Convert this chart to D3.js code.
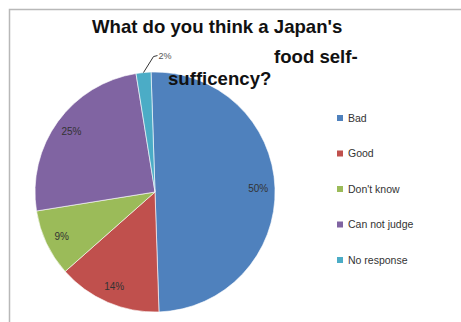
<!DOCTYPE html>
<html>
<head>
<meta charset="utf-8">
<script src="https://cdn.jsdelivr.net/npm/d3@7"></script>
<style>
  body { margin: 0; background: #fff; }
  svg { display: block; }
</style>
</head>
<body>
<div id="chart"></div>
<script>
// data
var categories = ["Bad", "Good", "Don't know", "Can not judge", "No response"];
var shares = [50, 14, 9, 25, 2];
var colors = ["#4F81BD", "#C0504D", "#9BBB59", "#8064A2", "#4BACC6"];
var titleLines = ["What do you think a Japan's", "food self-", "sufficency?"];

var width = 461;
var height = 322;

var svg = d3.select("#chart")
  .append("svg")
  .attr("width", width)
  .attr("height", height);

// chart frame (only top and left show in the shot)
svg.append("rect")
  .attr("x", 9.5)
  .attr("y", 9.5)
  .attr("width", 470)
  .attr("height", 330)
  .attr("fill", "#fff")
  .attr("stroke", "#b8b8b8")
  .attr("stroke-width", 1.5);

// pie
var cx = 155, cy = 192, radius = 120;
var rot = -1.9 * Math.PI / 180;

var pie = d3.pie()
  .sort(null)
  .startAngle(rot)
  .endAngle(2 * Math.PI + rot);

var arcs = pie(shares);

var arc = d3.arc().innerRadius(0).outerRadius(radius);

var g = svg.append("g").attr("transform", "translate(" + cx + "," + cy + ")");

g.selectAll("path.slice")
  .data(arcs)
  .enter()
  .append("path")
  .attr("class", "slice")
  .attr("d", arc)
  .attr("fill", function(d, i) { return colors[i]; })
  .attr("stroke", "#fff")
  .attr("stroke-width", 0.6);

// data labels inside, small ones outside with a leader
var labelArc = d3.arc().innerRadius(radius * 0.86).outerRadius(radius * 0.86);

arcs.forEach(function(d, i) {
  var txt = shares[i] + "%";
  if (shares[i] >= 5) {
    var c = labelArc.centroid(d);
    g.append("text")
      .attr("x", c[0])
      .attr("y", c[1])
      .attr("dy", "0.35em")
      .attr("text-anchor", "middle")
      .attr("font-family", "Liberation Sans, Arial, sans-serif")
      .attr("font-size", 10)
      .attr("fill", "#333")
      .text(txt);
  } else {
    var mid = (d.startAngle + d.endAngle) / 2;
    var p0 = [radius * Math.sin(mid), -radius * Math.cos(mid)];
    var p1 = [p0[0] + 10, p0[1] - 16];
    var p2 = [p1[0] + 4, p1[1] - 1];
    g.append("path")
      .attr("d", d3.line()([p0, p1, p2]))
      .attr("fill", "none")
      .attr("stroke", "#333")
      .attr("stroke-width", 1);
    g.append("text")
      .attr("x", p2[0] + 1)
      .attr("y", p2[1])
      .attr("dy", "0.35em")
      .attr("font-family", "Liberation Sans, Arial, sans-serif")
      .attr("font-size", 9)
      .attr("fill", "#555")
      .text(txt);
  }
});

// title, broken over three lines like the original
var titlePos = [[92, 33], [274, 63], [168, 85]];
svg.selectAll("text.title")
  .data(titleLines)
  .enter()
  .append("text")
  .attr("class", "title")
  .attr("x", function(d, i) { return titlePos[i][0]; })
  .attr("y", function(d, i) { return titlePos[i][1]; })
  .attr("font-family", "Liberation Sans, Arial, sans-serif")
  .attr("font-weight", "bold")
  .attr("font-size", 18.6)
  .attr("fill", "#111")
  .text(function(d) { return d; });

// legend
var legendY = d3.scalePoint()
  .domain(categories)
  .range([118, 260]);

var legend = svg.selectAll("g.legend")
  .data(categories)
  .enter()
  .append("g")
  .attr("class", "legend")
  .attr("transform", function(d) { return "translate(337," + legendY(d) + ")"; });

legend.append("rect")
  .attr("x", 0)
  .attr("y", -3)
  .attr("width", 6)
  .attr("height", 6)
  .attr("fill", function(d, i) { return colors[i]; });

legend.append("text")
  .attr("x", 11)
  .attr("y", 0)
  .attr("dy", "0.35em")
  .attr("font-family", "Liberation Sans, Arial, sans-serif")
  .attr("font-size", 10.5)
  .attr("fill", "#333")
  .text(function(d) { return d; });
</script>
</body>
</html>
